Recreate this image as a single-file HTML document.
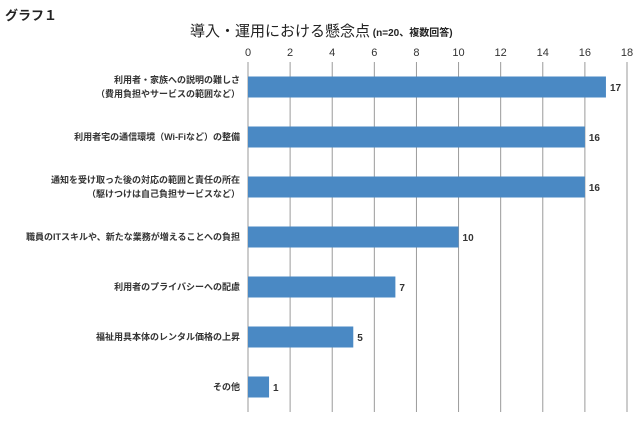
<!DOCTYPE html>
<html><head><meta charset="utf-8"><style>
body{margin:0;background:#fff;font-family:"Liberation Sans","Noto Sans CJK JP",sans-serif;}
svg text{font-family:"Liberation Sans","Noto Sans CJK JP",sans-serif;}
</style></head><body>
<svg id="chart" width="637" height="421" xmlns="http://www.w3.org/2000/svg">
<text x="5" y="20" font-size="13" font-weight="bold" fill="#222">グラフ１</text>
<text x="190" y="36" font-size="15" fill="#222">導入・運用における懸念点<tspan font-size="10" font-weight="bold"> (n=20、複数回答)</tspan></text>
<g id="grid"></g><g id="bars"></g><g id="labels"></g>
</svg>
<script>
const categories=[["利用者・家族への説明の難しさ","（費用負担やサービスの範囲など）"],["利用者宅の通信環境（Wi-Fiなど）の整備"],["通知を受け取った後の対応の範囲と責任の所在","（駆けつけは自己負担サービスなど）"],["職員のITスキルや、新たな業務が増えることへの負担"],["利用者のプライバシーへの配慮"],["福祉用具本体のレンタル価格の上昇"],["その他"]];
const values=[17,16,16,10,7,5,1];
const ticks=[0,2,4,6,8,10,12,14,16,18];
const NS="http://www.w3.org/2000/svg";
const x0=248,x1=627,xmax=18,plotTop=62,plotBottom=412;
const band=(plotBottom-plotTop)/categories.length;
const sx=v=>x0+(x1-x0)*v/xmax;
function mk(t,a,p,txt){const e=document.createElementNS(NS,t);for(const k in a)e.setAttribute(k,a[k]);if(txt!==undefined)e.textContent=txt;p.appendChild(e);return e;}
const g=document.getElementById('grid'),b=document.getElementById('bars'),l=document.getElementById('labels');
ticks.forEach(t=>{
 const ln=mk('line',{x1:sx(t),x2:sx(t),y1:plotTop,y2:plotBottom,stroke:'#9a9a9a','stroke-width':1},g);
 
 
 const tx=mk('text',{x:sx(t),y:56,'font-size':11,'text-anchor':'middle',fill:'#333'},g,t);
 
 
});
categories.forEach((c,i)=>{
 const cy=plotTop+band*(i+0.5);
 const r=mk('rect',{x:x0,y:cy-10.5,width:sx(values[i])-x0,height:21,fill:'#4a89c4'},b);
 
 
 const v=mk('text',{x:sx(values[i])+4,y:cy+4,'font-size':10,'font-weight':'bold',fill:'#333'},l,values[i]);
 
 
 c.forEach((line,j)=>{
  const yy=cy+3+(j-(c.length-1)/2)*14;
  const t=mk('text',{x:240,y:yy,'font-size':9,'font-weight':'bold','text-anchor':'end',fill:'#333'},l,line);
  
  
 });
});
</script>
</body></html>
